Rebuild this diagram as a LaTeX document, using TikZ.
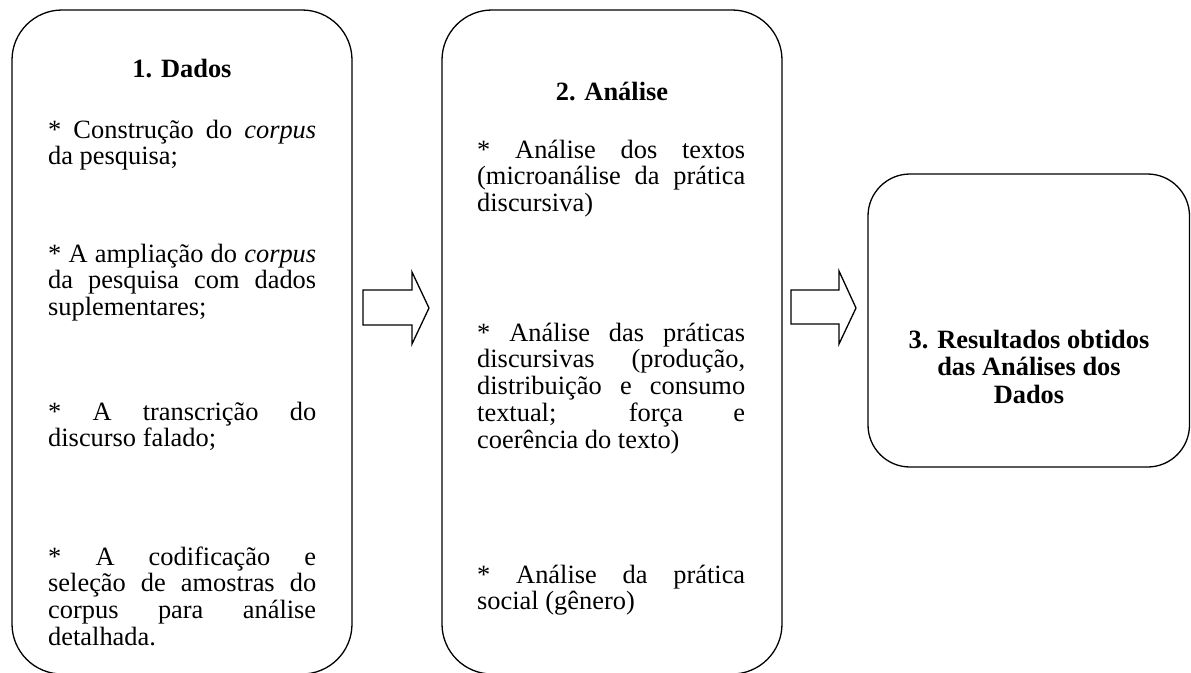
\documentclass[tikz,border=0pt]{standalone}
\usepackage{fontspec}
\setmainfont{Liberation Serif}

% one justified line, one ragged (last) line, one centred line
\newcommand{\jline}[1]{\hbox to 268pt{#1}}
\newcommand{\fline}[1]{\hbox{#1}}
\newcommand{\mline}[1]{\hbox to 320pt{\hfil#1\hfil}}
% a stack of lines whose reference point is the first baseline
\newcommand{\para}[1]{\vtop{\baselineskip=26.8pt\lineskiplimit=-100pt #1}}

\begin{document}
\begin{tikzpicture}[x=1pt,y=-1pt,
  stage/.style={draw, line width=1.3pt, rounded corners=50pt, inner sep=0pt,
                outer sep=0pt, anchor=north west},
  body/.style={anchor=base west, inner sep=0pt, font=\fontsize{26.4}{26.8}\selectfont},
  head/.style={anchor=base, inner sep=0pt, font=\fontsize{26.4}{27}\selectfont\bfseries},
  blockarrow/.style={draw, line width=1.3pt, line join=miter}]
\useasboundingbox (0,0) rectangle (1191,672);
\clip (0,0) rectangle (1191,672);

% stage frames
\node[stage, minimum width=340pt, minimum height=664pt] (dados) at (12,10) {};
\node[stage, minimum width=340pt, minimum height=664pt] (analise) at (442,10) {};
\node[stage, rounded corners=42pt, minimum width=321.5pt, minimum height=293pt] (resultados) at (868,174) {};

% stage 1
\node[head] (t1) at (182,77) {1. Dados};
\node[body] (d1) at (48,138) {\para{\jline{* Construção do \textit{corpus}}\fline{da pesquisa;}}};
\node[body] (d2) at (48,262) {\para{\jline{* A ampliação do \textit{corpus}}\jline{da pesquisa com dados}\fline{suplementares;}}};
\node[body] (d3) at (48,420) {\para{\jline{* A transcrição do}\fline{discurso falado;}}};
\node[body] (d4) at (48,565) {\para{\jline{* A codificação e}\jline{seleção de amostras do}\jline{corpus para análise}\fline{detalhada.}}};

% stage 2
\node[head] (t2) at (612,100) {2. Análise};
\node[body] (a1) at (477,158) {\para{\jline{* Análise dos textos}\jline{(microanálise da prática}\fline{discursiva)}}};
\node[body] (a2) at (477,341) {\para{\jline{* Análise das práticas}\jline{discursivas (produção,}\jline{distribuição e consumo}\jline{textual; força e}\fline{coerência do texto)}}};
\node[body] (a3) at (477,583) {\para{\jline{* Análise da prática}\fline{social (gênero)}}};

% stage 3
\node[head] (t3) at (1029,348) {\vtop{\baselineskip=27.5pt\lineskiplimit=-100pt
  \mline{3. Resultados obtidos}\mline{das Análises dos}\mline{Dados}}};

% block arrows between the stages
\draw[blockarrow] (363,290) -- (412,290) -- (412,272) -- (429,308) -- (412,344)
  -- (412,325) -- (363,325) -- cycle;
\draw[blockarrow] (791,290) -- (839,290) -- (839,271) -- (856,308) -- (839,344)
  -- (839,324) -- (791,324) -- cycle;
\end{tikzpicture}
\end{document}
